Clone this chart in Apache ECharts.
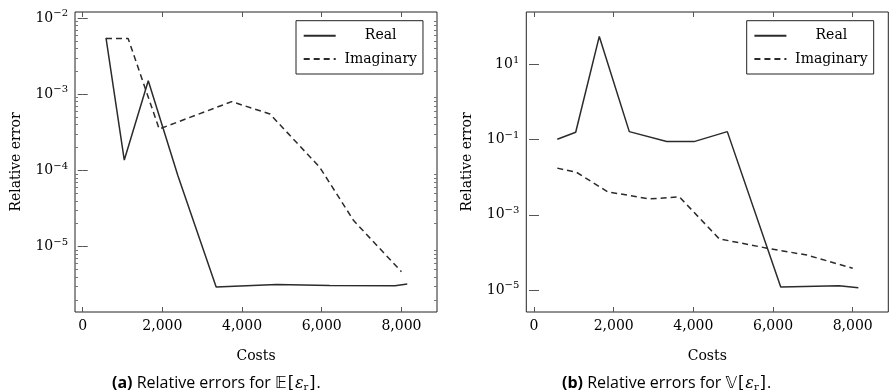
<!DOCTYPE html>
<html>
<head>
<meta charset="utf-8">
<script src="https://cdn.jsdelivr.net/npm/echarts@6/dist/echarts.min.js"></script>
<style>
  html, body { margin: 0; padding: 0; background: #fff; }
  #chart { width: 889px; height: 392px; }
</style>
</head>
<body>
<div id="chart"></div>
<script>
// (a) relative errors of the mean
const costsMeanReal = [585, 1044, 1646, 2390, 3350, 4870, 6200, 7840, 8146];
const errMeanReal = [5.5e-3, 1.37e-4, 1.5e-3, 8.5e-5, 2.95e-6, 3.2e-6, 3.1e-6, 3.08e-6, 3.25e-6];
const costsMeanImag = [585, 1140, 1920, 3740, 4700, 5950, 6800, 8000];
const errMeanImag = [5.4e-3, 5.4e-3, 3.5e-4, 8.0e-4, 5.5e-4, 1.1e-4, 2.2e-5, 4.7e-6];

// (b) relative errors of the variance
const costsVarReal = [585, 1047, 1639, 2392, 3331, 4017, 4852, 6193, 7657, 8141];
const errVarReal = [0.103, 0.158, 56, 0.164, 0.089, 0.089, 0.164, 1.2e-5, 1.3e-5, 1.15e-5];
const costsVarImag = [585, 1070, 1850, 2900, 3650, 4650, 5850, 6850, 8000];
const errVarImag = [1.75e-2, 1.35e-2, 4.1e-3, 2.65e-3, 3.0e-3, 2.3e-4, 1.3e-4, 8.5e-5, 3.8e-5];

// ticks
const costTicks = [0, 2000, 4000, 6000, 8000];
const meanTicks = [1e-5, 1e-4, 1e-3, 1e-2];
const varTicks = [1e-5, 1e-3, 1e-1, 1e1];

const SERIF = "DejaVu Serif";
const INK = "#2b2b2b";

const zip = (xs, ys) => xs.map((x, i) => [x, ys[i]]);

// 2..9 × 10^k inside [lo, hi]
function minorTicks(lo, hi) {
  const out = [];
  for (let k = Math.floor(Math.log10(lo)); k <= Math.ceil(Math.log10(hi)); k++) {
    for (let m = 2; m <= 9; m++) {
      const v = m * Math.pow(10, k);
      if (v >= lo && v <= hi) out.push(v);
    }
  }
  return out;
}

const powLabel = (v) => {
  const e = Math.round(Math.log10(v));
  return "10{s|" + String(e).replace("-", "\u2212") + "}";
};

const labelRich = {
  s: { fontFamily: SERIF, fontSize: 10, color: "#000", padding: [0, 0, 9, 0] },
};

function xAxes(grid) {
  const base = {
    type: "value", gridIndex: grid, min: -193, max: 8893,
    axisLine: { show: false }, splitLine: { show: false },
    axisTick: { inside: true, length: 5, customValues: costTicks, lineStyle: { color: "#555" } },
  };
  return [
    Object.assign({}, base, {
      position: "bottom",
      name: "Costs", nameLocation: "middle", nameGap: 37,
      nameTextStyle: { fontFamily: SERIF, fontSize: 14, color: "#000" },
      axisLabel: {
        customValues: costTicks, margin: 7, fontFamily: SERIF, fontSize: 14, color: "#000",
        formatter: (v) => v.toLocaleString("en-US"),
      },
    }),
    Object.assign({}, base, { position: "top", axisLabel: { show: false } }),
  ];
}

function yAxes(grid, min, max, majors, minors) {
  const base = {
    type: "log", gridIndex: grid, min: min, max: max, logBase: 10,
    axisLine: { show: false }, splitLine: { show: false },
  };
  const out = [
    Object.assign({}, base, {
      position: "left",
      name: "Relative error", nameLocation: "middle", nameGap: 52,
      nameTextStyle: { fontFamily: SERIF, fontSize: 14, color: "#000" },
      axisTick: { inside: true, length: 5, customValues: majors, lineStyle: { color: "#555" } },
      axisLabel: {
        customValues: majors, margin: 7, fontFamily: SERIF, fontSize: 14, color: "#000",
        formatter: powLabel, rich: labelRich,
      },
    }),
    Object.assign({}, base, {
      position: "right",
      axisTick: { inside: true, length: 5, customValues: majors, lineStyle: { color: "#555" } },
      axisLabel: { show: false },
    }),
  ];
  if (minors) {
    ["left", "right"].forEach((pos) => {
      out.push(Object.assign({}, base, {
        position: pos,
        axisTick: { inside: true, length: 3, customValues: minors, lineStyle: { color: "#777" } },
        axisLabel: { show: false },
      }));
    });
  }
  return out;
}

function legend(left) {
  return {
    left: left, top: 20.7, orient: "vertical",
    data: ["Real", "Imaginary"],
    borderColor: "#222", borderWidth: 1, borderRadius: 0,
    padding: [8, 6, 8, 6.7],
    itemWidth: 32, itemHeight: 14, itemGap: 9.3,
    formatter: (n) => "{c|" + n + "}",
    textStyle: {
      fontFamily: SERIF, fontSize: 14, color: "#000",
      rich: { c: { width: 80, align: "center", fontFamily: SERIF, fontSize: 14 } },
    },
    selectedMode: false,
  };
}

const solid = { color: INK, width: 1.5, type: "solid" };
const dashed = { color: INK, width: 1.5, type: [6, 4] };

function line(name, data, x, y, style) {
  return {
    name: name, type: "line", data: data, xAxisIndex: x, yAxisIndex: y,
    symbol: "none", lineStyle: style,
    itemStyle: { color: "rgba(0,0,0,0)", borderWidth: 0 },
    animation: false, z: 3,
  };
}

const meanMin = 1.39e-6, meanMax = 1.2e-2;
const varMin = 2.6e-6, varMax = 250;

const yMean = yAxes(0, meanMin, meanMax, meanTicks, minorTicks(meanMin, meanMax));
const yVar = yAxes(1, varMin, varMax, varTicks, null);

const caption = (left, tag, op) => ({
  left: left, top: 370,
  text: "{b|(" + tag + ")} Relative errors for {m|" + op + "}{k|[}{e|\u03b5}{r|r}{k|]}.",
  textStyle: {
    fontFamily: "Open Sans", fontSize: 16, fontWeight: "normal", color: "#000",
    rich: {
      b: { fontFamily: "Open Sans", fontSize: 16, fontWeight: "bold", color: "#000" },
      m: { fontFamily: "DejaVu Sans", fontSize: 16, color: "#000" },
      k: { fontFamily: SERIF, fontSize: 16, color: "#000", padding: [0, 1, 0, 1] },
      e: { fontFamily: SERIF, fontSize: 16, fontStyle: "italic", color: "#000" },
      r: { fontFamily: SERIF, fontSize: 10, color: "#000", padding: [7, 0, 0, 0] },
    },
  },
});

const chart = echarts.init(document.getElementById("chart"));
chart.setOption({
  animation: false,
  backgroundColor: "#fff",
  title: [caption(107, "a", "\ud835\udd3c"), caption(557, "b", "\ud835\udd4d")],
  legend: [legend(296), legend(746.7)],
  grid: [
    { left: 75, top: 12, width: 362, height: 300, show: true, borderColor: "#222", borderWidth: 1, containLabel: false },
    { left: 526.3, top: 12, width: 362, height: 300, show: true, borderColor: "#222", borderWidth: 1, containLabel: false },
  ],
  xAxis: xAxes(0).concat(xAxes(1)),
  yAxis: yMean.concat(yVar),
  series: [
    line("Real", zip(costsMeanReal, errMeanReal), 0, 0, solid),
    line("Imaginary", zip(costsMeanImag, errMeanImag), 0, 0, dashed),
    line("Real", zip(costsVarReal, errVarReal), 2, yMean.length, solid),
    line("Imaginary", zip(costsVarImag, errVarImag), 2, yMean.length, dashed),
  ],
});
</script>
</body>
</html>
